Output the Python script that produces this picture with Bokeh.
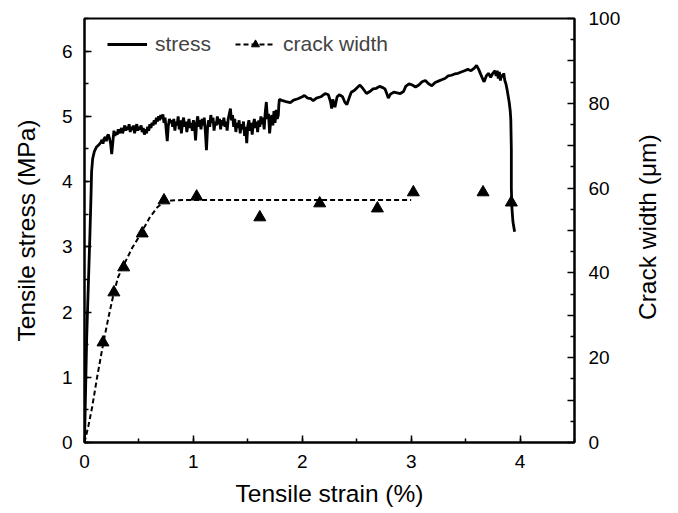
import math
from bokeh.plotting import figure
from bokeh.models import (Range1d, LinearAxis, SingleIntervalTicker, FixedTicker,
                          CustomJSTickFormatter, Legend, LegendItem)
from bokeh.embed import file_html
from bokeh.resources import INLINE

# ---------------- data ----------------
stress_strain = [
    0, 0.01, 0.02, 0.035, 0.05, 0.06, 0.065, 0.075, 0.09, 0.11,
    0.13, 0.15, 0.16, 0.17, 0.18, 0.19, 0.20, 0.21, 0.22, 0.23, 0.24, 0.25, 0.26, 0.27, 0.28, 0.29,
    0.30, 0.31, 0.32, 0.33, 0.34, 0.35, 0.36, 0.37, 0.38, 0.39, 0.40, 0.41, 0.42, 0.43, 0.44, 0.45,
    0.46, 0.47, 0.48, 0.49, 0.50, 0.51, 0.52, 0.53, 0.54, 0.55, 0.56, 0.57, 0.58, 0.59, 0.60, 0.61,
    0.62, 0.63, 0.64, 0.65, 0.66, 0.67, 0.68, 0.69, 0.70, 0.71, 0.72, 0.73, 0.74, 0.75, 0.76, 0.77,
    0.78, 0.79, 0.80,
    0.81, 0.82, 0.83, 0.84, 0.85, 0.86, 0.87, 0.88, 0.89, 0.90, 0.91, 0.92, 0.93, 0.94, 0.95, 0.96,
    0.97, 0.98, 0.99, 1.00, 1.01, 1.02, 1.03, 1.04, 1.05, 1.06, 1.07, 1.08, 1.09, 1.10, 1.11, 1.12,
    1.13, 1.14, 1.15, 1.16, 1.17, 1.18, 1.19, 1.20, 1.21, 1.22, 1.23, 1.24, 1.25, 1.26, 1.27, 1.28,
    1.29, 1.30, 1.31, 1.32, 1.33, 1.34, 1.35, 1.36, 1.37, 1.38, 1.39, 1.40, 1.41, 1.42, 1.43, 1.44,
    1.45, 1.46, 1.47, 1.48, 1.49, 1.50, 1.51, 1.52, 1.53, 1.54, 1.55, 1.56, 1.57, 1.58, 1.59, 1.60,
    1.61, 1.62, 1.63, 1.64, 1.65, 1.66, 1.67, 1.68, 1.69, 1.70, 1.71, 1.72, 1.73, 1.74, 1.75, 1.76,
    1.77, 1.78, 1.785, 1.79,
    1.82, 1.86, 1.89, 1.92, 1.96, 2.00, 2.02, 2.05, 2.08, 2.10, 2.13, 2.17, 2.21, 2.24, 2.26, 2.27,
    2.28, 2.30, 2.32, 2.34, 2.37, 2.39, 2.41, 2.43, 2.45, 2.48, 2.51, 2.53, 2.56, 2.59, 2.62, 2.65,
    2.68, 2.71, 2.74, 2.76, 2.78, 2.79, 2.81, 2.84, 2.87, 2.90, 2.93, 2.95, 2.98, 3.01, 3.04, 3.07,
    3.10, 3.13, 3.16, 3.19, 3.22, 3.25, 3.28, 3.31, 3.34, 3.37, 3.40, 3.43, 3.46, 3.49, 3.52, 3.55,
    3.58, 3.60, 3.62, 3.64, 3.66, 3.67, 3.69, 3.71, 3.73, 3.75, 3.77, 3.78, 3.79, 3.80, 3.81, 3.82,
    3.83, 3.84, 3.85, 3.86, 3.87, 3.88, 3.89, 3.90, 3.91, 3.915, 3.92, 3.92, 3.925, 3.935, 3.95,
]
stress_mpa = [
    0, 0.8, 1.6, 2.4, 3.2, 3.8, 4.15, 4.35, 4.46, 4.53,
    4.56, 4.60, 4.64, 4.58, 4.66, 4.68, 4.62, 4.70, 4.72, 4.66, 4.58, 4.42, 4.60, 4.78, 4.70, 4.76,
    4.72, 4.80, 4.74, 4.78, 4.82, 4.74, 4.80, 4.86, 4.78, 4.84, 4.80, 4.88, 4.76, 4.84, 4.79, 4.86,
    4.74, 4.82, 4.88, 4.78, 4.84, 4.80, 4.86, 4.76, 4.82, 4.72, 4.80, 4.74, 4.84, 4.78, 4.88, 4.82,
    4.90, 4.86, 4.94, 4.88, 4.98, 4.92, 5.00, 4.94, 5.02, 4.96, 5.03, 4.90, 4.98, 4.80, 4.62, 4.86,
    4.96, 4.90, 4.94,
    4.84, 4.96, 4.78, 4.92, 4.86, 5.00, 4.80, 4.94, 4.74, 4.90, 4.98, 4.84, 4.92, 4.76, 4.88, 4.96,
    4.82, 4.90, 4.78, 4.94, 4.86, 4.63, 4.90, 5.00, 4.84, 4.94, 4.80, 4.96, 4.86, 4.98, 4.76, 4.48,
    4.82, 4.94, 4.84, 5.02, 4.90, 4.98, 4.78, 4.92, 4.86, 5.00, 4.88, 4.96, 4.80, 4.94, 4.86, 4.98,
    4.84, 4.92, 4.78, 4.96, 5.04, 5.12, 4.94, 5.02, 4.84, 4.96, 4.76, 4.90, 4.82, 4.94, 4.74, 4.88,
    4.80, 4.92, 4.70, 4.84, 4.59, 4.86, 4.94, 4.78, 4.90, 4.72, 4.88, 4.96, 4.82, 4.92, 4.76, 4.94,
    4.84, 5.00, 4.88, 4.98, 4.80, 5.06, 5.22, 4.96, 5.04, 4.74, 4.92, 5.02, 4.86, 5.08, 4.90, 5.10,
    4.96, 5.02, 5.18, 5.26,
    5.24, 5.22, 5.21, 5.25, 5.27, 5.30, 5.32, 5.28, 5.27, 5.24, 5.28, 5.30, 5.35, 5.33, 5.22, 5.12,
    5.26, 5.14, 5.30, 5.33, 5.30, 5.22, 5.18, 5.28, 5.37, 5.40, 5.45, 5.48, 5.42, 5.35, 5.38, 5.42,
    5.43, 5.46, 5.44, 5.42, 5.33, 5.28, 5.34, 5.37, 5.36, 5.35, 5.38, 5.46, 5.50, 5.48, 5.45, 5.48,
    5.53, 5.55, 5.50, 5.47, 5.52, 5.54, 5.56, 5.58, 5.62, 5.63, 5.65, 5.66, 5.68, 5.70, 5.72, 5.70,
    5.74, 5.78, 5.72, 5.64, 5.56, 5.53, 5.62, 5.66, 5.60, 5.66, 5.70, 5.62, 5.70, 5.58, 5.68, 5.55,
    5.64, 5.60, 5.66, 5.55, 5.50, 5.42, 5.32, 5.22, 5.08, 4.95, 4.50, 3.90, 3.60, 3.38, 3.23,
]

crack_strain = [0.17, 0.27, 0.36, 0.53, 0.73, 1.03, 1.61, 2.16, 2.69, 3.02, 3.66, 3.92]
crack_width_um = [23.6, 35.4, 41.3, 49.3, 57.1, 58.0, 53.1, 56.4, 55.2, 59.0, 59.0, 56.6]

fit_strain = [0, 0.035, 0.07, 0.116, 0.17, 0.22, 0.27, 0.31, 0.36, 0.39, 0.44, 0.50, 0.55,
              0.60, 0.67, 0.73, 0.80, 0.90, 1.00, 3.00]
fit_width_um = [0, 3.8, 8.3, 15.4, 23.1, 29.5, 35.4, 39.1, 41.8, 43.4, 46.0, 48.5, 50.8,
                53.1, 55.5, 56.8, 57.1, 57.2, 57.2, 57.2]

right_label = "Crack width (μm)"

FONT = "Liberation Sans"

p = figure(frame_width=490, frame_height=424,
           x_range=Range1d(0, 4.5), y_range=Range1d(0, 6.5),
           output_backend="svg", toolbar_location=None,
           min_border_left=84, min_border_top=18, min_border_right=96, min_border_bottom=60,
           x_axis_label="Tensile strain (%)", y_axis_label="Tensile stress (MPa)")
p.extra_y_ranges = {"cw": Range1d(0, 100)}
p.grid.visible = False
p.outline_line_color = "black"
p.outline_line_width = 2
p.outline_line_alpha = 1

r_stress = p.line(stress_strain, stress_mpa, line_color="black", line_width=2.8)
r_fit = p.line(fit_strain, fit_width_um, y_range_name="cw", line_color="black",
               line_width=2, line_dash="5 3")
r_pts = p.scatter(crack_strain, crack_width_um, y_range_name="cw", marker="triangle",
                  size=12, fill_color="black", line_color="black")

# right axis title reads bottom-to-top; it is anchored at the axis start, so
# non-breaking spaces lift the visible words to the middle of the axis
right = LinearAxis(y_range_name="cw", axis_label="\u00a0" * 18 + right_label)
right.ticker = FixedTicker(ticks=[0, 10, 20, 30, 40, 50, 60, 70, 80, 90, 100],
                           minor_ticks=[5, 15, 25, 35, 45, 55, 65, 75, 85, 95])
right.formatter = CustomJSTickFormatter(code="return (tick % 20 == 0) ? tick.toFixed(0) : '';")
right.axis_label_orientation = math.pi / 2
right.axis_label_align = "start"
p.add_layout(right, "right")

p.xaxis.ticker = SingleIntervalTicker(interval=1, num_minor_ticks=2)
p.yaxis[0].ticker = SingleIntervalTicker(interval=1, num_minor_ticks=2)

for ax in [p.xaxis[0], p.yaxis[0], right]:
    ax.axis_line_width = 2
    ax.axis_line_color = "black"
    ax.major_tick_in = 7
    ax.major_tick_out = 0
    ax.minor_tick_in = 4
    ax.minor_tick_out = 0
    ax.major_tick_line_width = 1.5
    ax.minor_tick_line_width = 1.5
    ax.major_label_text_font = FONT
    ax.major_label_text_font_size = "19px"
    ax.major_label_text_color = "black"
    ax.axis_label_text_font = FONT
    ax.axis_label_text_font_size = "24.5px"
    ax.axis_label_text_font_style = "normal"
    ax.axis_label_text_color = "black"

p.xaxis.major_label_standoff = 12
p.xaxis.axis_label_standoff = 9
p.yaxis[0].major_label_standoff = 12
p.yaxis[0].axis_label_standoff = 19
right.major_label_standoff = 14
right.axis_label_standoff = 24

legend = Legend(items=[LegendItem(label="stress", renderers=[r_stress]),
                       LegendItem(label="crack width", renderers=[r_fit, r_pts])],
                orientation="horizontal", location=(18, 381),
                label_text_font=FONT, label_text_font_size="21px",
                glyph_width=40, glyph_height=20, spacing=24, padding=5,
                background_fill_alpha=0, border_line_alpha=0, label_standoff=8)
p.add_layout(legend, "center")

open("out.html", "w").write(file_html(p, INLINE))
